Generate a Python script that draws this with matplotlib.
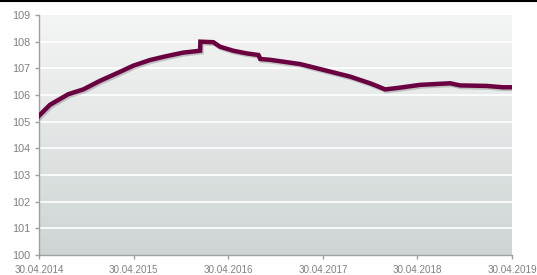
import numpy as np
import pandas as pd
import matplotlib
matplotlib.use("Agg")
import matplotlib.pyplot as plt
import matplotlib.dates as mdates
import matplotlib.patheffects as pe
from matplotlib.lines import Line2D

# values
dates = ["2014-04-30", "2014-06-11", "2014-08-21", "2014-10-18", "2014-12-21",
         "2015-03-09", "2015-04-29", "2015-07-02", "2015-09-05", "2015-11-08",
         "2016-01-12", "2016-01-13", "2016-03-03", "2016-03-29", "2016-05-19",
         "2016-07-10", "2016-08-24", "2016-08-31", "2016-10-08", "2017-02-01",
         "2017-05-15", "2017-08-13", "2017-10-29", "2017-11-24", "2017-12-26",
         "2018-02-09", "2018-05-10", "2018-09-03", "2018-10-11", "2019-01-23",
         "2019-03-26", "2019-04-30"]
values = [105.22, 105.63, 106.03, 106.21, 106.53,
          106.87, 107.10, 107.31, 107.46, 107.59,
          107.66, 108.00, 107.98, 107.81, 107.66,
          107.56, 107.50, 107.35, 107.32, 107.16,
          106.91, 106.69, 106.44, 106.34, 106.21,
          106.26, 106.38, 106.44, 106.36, 106.34,
          106.29, 106.29]
tick_dates = ["2014-04-30", "2015-04-30", "2016-04-30", "2017-04-30", "2018-04-30", "2019-04-30"]

x = pd.to_datetime(dates)
ticks = pd.to_datetime(tick_dates)

fig = plt.figure(figsize=(5.37, 2.75), dpi=100)
ax = fig.add_axes([39/537, 1 - 255/275, (512 - 39)/537, 240/275])

# grey gradient background of the plot area
grad = np.linspace(0, 1, 256).reshape(-1, 1)
top = np.array([0.957, 0.965, 0.961])
bot = np.array([0.808, 0.831, 0.831])
img = top + (bot - top) * grad[..., None]
ax.imshow(img, extent=[0, 1, 0, 1], transform=ax.transAxes, aspect="auto", zorder=0)

ax.plot(x, values, color="#6b0040", lw=3.2, solid_joinstyle="miter", zorder=3,
        path_effects=[pe.SimpleLineShadow(offset=(1, -1.2), shadow_color="#404040", alpha=0.25, rho=1),
                      pe.Normal()])

ax.set_ylim(100, 109)
ax.set_yticks(range(100, 110))
ax.set_xlim(ticks[0], ticks[-1])
ax.set_xticks(ticks)
ax.xaxis.set_major_formatter(mdates.DateFormatter("%d.%m.%Y"))

for yv in range(101, 109):
    ax.axhline(yv, color="white", lw=1.2, zorder=1)

for s in ["top", "right"]:
    ax.spines[s].set_visible(False)
for s in ["left", "bottom"]:
    ax.spines[s].set_color("#a0a0a0")
    ax.spines[s].set_linewidth(1.0)
ax.tick_params(colors="#a0a0a0", length=3, width=1, labelcolor="#808080")
ax.tick_params(axis="y", labelsize=7.8)
ax.tick_params(axis="x", labelsize=7.1, pad=4)
for lab in ax.get_xticklabels() + ax.get_yticklabels():
    lab.set_family("Liberation Sans")

fig.add_artist(Line2D([0, 1], [0.997, 0.997], color="black", lw=1.5, transform=fig.transFigure))

fig.savefig("out.png", dpi=100)
